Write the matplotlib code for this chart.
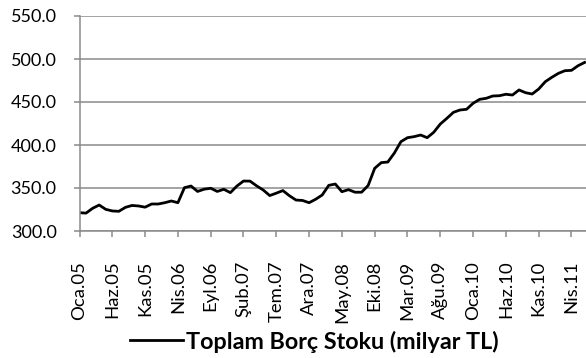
import matplotlib
matplotlib.use("Agg")
import matplotlib.pyplot as plt
from matplotlib.ticker import FixedLocator, FuncFormatter

# Monthly debt stock, Jan 2005 - Jun 2011 (billion TL)
months_tr = ["Oca", "Şub", "Mar", "Nis", "May", "Haz",
             "Tem", "Ağu", "Eyl", "Eki", "Kas", "Ara"]
start_year = 2005
debt_stock = [
    321.3, 320.8, 326.4, 330.2, 325.2, 323.3, 322.9, 327.5, 329.7, 329.1, 327.7, 331.4,
    331.4, 332.9, 334.9, 332.9, 350.4, 352.3, 346.0, 348.6, 349.7, 346.0, 348.5, 344.6,
    352.3, 358.1, 358.0, 352.5, 347.7, 341.2, 344.0, 347.0, 341.0, 336.0, 335.5, 332.9,
    336.9, 341.9, 353.1, 354.6, 345.7, 348.1, 345.1, 345.1, 352.9, 372.9, 379.5, 380.2,
    390.7, 403.9, 408.5, 409.7, 411.6, 408.5, 414.8, 424.4, 431.0, 438.0, 440.7, 441.5,
    448.5, 453.1, 454.3, 457.0, 457.3, 459.0, 458.1, 464.0, 460.8, 459.3, 465.1, 473.6,
    478.7, 483.3, 486.4, 486.8, 492.2, 496.0,
]
series_name = "Toplam Borç Stoku (milyar TL)"
y_ticks = [300, 350, 400, 450, 500, 550]
label_step = 5

labels = [f"{months_tr[i % 12]}.{(start_year + i // 12) % 100:02d}"
          for i in range(len(debt_stock))]
x = list(range(len(debt_stock)))

plt.rcParams["font.family"] = ["Lato", "DejaVu Sans"]

W, H = 586, 358
fig = plt.figure(figsize=(W / 100, H / 100), dpi=100)
left, right, top, bottom = 79.5, 586, 16, 231
ax = fig.add_axes([left / W, 1 - bottom / H, (right - left) / W, (bottom - top) / H])

grey = "#8a8a8a"
line, = ax.plot(x, debt_stock, color="black", lw=2.0, solid_joinstyle="round",
                label=series_name, clip_on=True)

ax.set_ylim(y_ticks[0], y_ticks[-1])
ax.set_xlim(0, (right - left) / 6.56)
ax.yaxis.set_major_locator(FixedLocator(y_ticks))
ax.yaxis.set_major_formatter(FuncFormatter(lambda v, p: f"{v:.1f}"))

tick_pos = x[::label_step]
ax.set_xticks(tick_pos)
ax.set_xticklabels([labels[i] for i in tick_pos], rotation=90, va="top", ha="center")

ax.grid(axis="y", color=grey, lw=1.1)
ax.set_axisbelow(True)
for s in ("top", "right"):
    ax.spines[s].set_visible(False)
for s in ("left", "bottom"):
    ax.spines[s].set_color(grey)
    ax.spines[s].set_linewidth(1.1)

ax.tick_params(axis="y", direction="out", length=4.5, width=1.1, color=grey,
               pad=12, labelsize=13, labelcolor="black")
ax.tick_params(axis="x", direction="out", length=4.5, width=1.1, color=grey,
               pad=17, labelsize=13.3, labelcolor="black")

leg = fig.legend(handles=[line], loc="center",
                 bbox_to_anchor=(314.5 / W, 1 - 341.5 / H),
                 frameon=False, handlelength=2.27, handletextpad=0.15,
                 prop={"weight": "bold", "size": 16.8})

fig.savefig("out.png", dpi=100)
